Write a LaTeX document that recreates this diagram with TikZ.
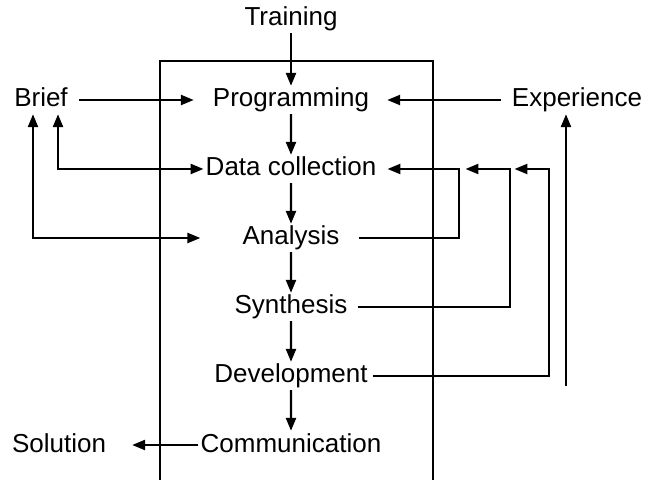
\documentclass[tikz,border=0pt]{standalone}
\usepackage{fontspec}
\setmainfont{Liberation Sans}
\usetikzlibrary{arrows.meta}
\tikzset{
  arr/.style={-{Triangle[length=13pt,width=10pt]}},
  twoarr/.style={{Triangle[length=13pt,width=10pt]}-{Triangle[length=13pt,width=10pt]}},
}
\begin{document}
\begin{tikzpicture}[x=1pt,y=1pt,line width=2.4pt,
  every node/.style={font=\fontsize{26}{30}\selectfont,text height=19pt,text depth=5pt,inner sep=1pt},
  level/.style={level distance=69pt},
  level 1/.style={level distance=81pt},
  edge from parent/.style={draw,arr}]
\useasboundingbox (0,0) rectangle (646,480);
\draw (160,0) -- (160,419) -- (433,419) -- (433,0);
\node (train) at (291,461) {Training}
	child {node (prog) {Programming}
		child {node (data) {Data collection}
			child {node (ana) {Analysis}
				child {node (syn) {Synthesis}
					child {node (dev) {Development}
						child {node (comm) {Communication}}
					}
				}
			}
		}
	}
;
\node (brief) at (41,380) {Brief};
\node (exp) at (577,380) {Experience};
\node (sol) at (59,35) {Solution};
\coordinate (expfoot) at (566,94);
\coordinate (col1) at (459,0);
\coordinate (col2) at (510,0);
\coordinate (col3) at (549,0);
\draw[arr,shorten <=9pt,shorten >=17pt] (brief) -- (prog);
\draw[arr,shorten <=9pt,shorten >=16pt] (exp) -- (prog);
\draw[twoarr] (data.west) -| ([xshift=17pt]brief.south);
\draw[twoarr,shorten <=40pt] (ana.west) -| ([xshift=-8pt]brief.south);
\draw[arr,shorten <=17pt,shorten >=9pt] (ana.east) -| (col1 |- data.east) -- (data.east);
\draw[arr,shorten <=8pt,shorten >=87pt] (syn.east) -| (col2 |- data.east) -- (data.east);
\draw[arr,shorten <=3pt,shorten >=136pt] (dev.east) -| (col3 |- data.east) -- (data.east);
\draw[arr] (expfoot) -- (expfoot |- exp.south);
\draw[arr,shorten >=24pt] (comm) -- (sol);
\end{tikzpicture}
\end{document}
